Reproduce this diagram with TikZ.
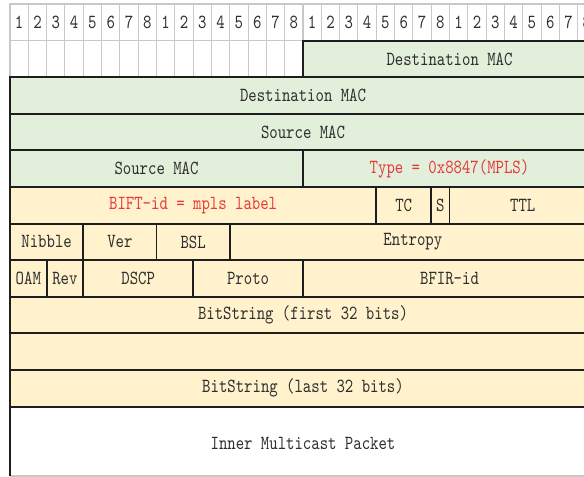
\documentclass[tikz,border=0pt]{standalone}
\usepackage{fontspec}
\newfontfamily\monof{lmmono10-regular.otf}[FakeStretch=0.8]
\definecolor{greenf}{HTML}{E2EFDA}
\definecolor{orangef}{HTML}{FFF2CC}
\definecolor{gridc}{HTML}{C8C8C8}
\definecolor{txtc}{HTML}{2E2E2E}
\definecolor{redt}{HTML}{E8393A}
\definecolor{edge}{HTML}{1E1E1E}
\tikzset{
  fieldbox/.style={draw=edge, line width=1.4pt},
  gridbox/.style={draw=gridc, line width=0.8pt, fill=white},
  txt/.style={text=txtc, font=\monof\fontsize{15}{17}\selectfont, inner sep=0pt},
  redtxt/.style={txt, text=redt},
}
\newcommand{\cw}{18.3125}
\newcommand{\rh}{36.6}
% \fieldx{name}{bit0}{bit1}{row}{fill}{text style}{text}
\newcommand{\fieldx}[7]{%
  \draw[fieldbox, fill=#5] ({10+#2*\cw},{4+#4*\rh}) rectangle ({10+#3*\cw},{4+(#4+1)*\rh});
  \node[#6] (#1) at ({10+(#2+#3)*\cw/2},{4+(#4+0.5)*\rh}) {#7};}
\begin{document}
\begin{tikzpicture}[x=0.75pt,y=-0.75pt]
\useasboundingbox (0,0) rectangle (584,477);
\clip (0,0) rectangle (584,477);
\fill[white] (0,0) rectangle (584,477);
% header numbers
\foreach \i in {0,...,31}{
  \pgfmathtruncatemacro{\n}{mod(\i,8)+1}
  \draw[gridbox] ({10+\i*\cw},4) rectangle ({10+(\i+1)*\cw},{4+\rh});
  \node[txt] (h\i) at ({10+(\i+0.5)*\cw},{4+0.5*\rh}) {\n};
}
\foreach \i in {0,...,15}{
  \draw[gridbox] ({10+\i*\cw},{4+\rh}) rectangle ({10+(\i+1)*\cw},{4+2*\rh});
}
\fieldx{dmac1}{16}{32}{1}{greenf}{txt}{Destination MAC}
\fieldx{dmac2}{0}{32}{2}{greenf}{txt}{Destination MAC}
\fieldx{smac1}{0}{32}{3}{greenf}{txt}{Source MAC}
\fieldx{smac2}{0}{16}{4}{greenf}{txt}{Source MAC}
\fieldx{type}{16}{32}{4}{greenf}{redtxt}{Type = 0x8847(MPLS)}
\fieldx{bift}{0}{20}{5}{orangef}{redtxt}{BIFT-id = mpls label}
\fieldx{tc}{20}{23}{5}{orangef}{txt}{TC}
\fieldx{s}{23}{24}{5}{orangef}{txt}{S}
\fieldx{ttl}{24}{32}{5}{orangef}{txt}{TTL}
\fieldx{nib}{0}{4}{6}{orangef}{txt}{Nibble}
\fieldx{ver}{4}{8}{6}{orangef}{txt}{Ver}
\fieldx{bsl}{8}{12}{6}{orangef}{txt}{BSL}
\fieldx{ent}{12}{32}{6}{orangef}{txt}{Entropy}
\fieldx{oam}{0}{2}{7}{orangef}{txt}{OAM}
\fieldx{rev}{2}{4}{7}{orangef}{txt}{Rev}
\fieldx{dscp}{4}{10}{7}{orangef}{txt}{DSCP}
\fieldx{proto}{10}{16}{7}{orangef}{txt}{Proto}
\fieldx{bfir}{16}{32}{7}{orangef}{txt}{BFIR-id}
\fieldx{bs1}{0}{32}{8}{orangef}{txt}{BitString (first 32 bits)}
\fieldx{bsm}{0}{32}{9}{orangef}{txt}{}
\fieldx{bs2}{0}{32}{10}{orangef}{txt}{BitString (last 32 bits)}
% inner packet
\draw[gridc, line width=0.9pt] (10,476) -- (596,476);
\draw[edge, line width=1.4pt] (10,{4+11*\rh}) -- (10,476);
\draw[edge, line width=1.4pt] (10,{4+11*\rh}) -- (596,{4+11*\rh});
\node[txt] (inner) at (303,443) {Inner Multicast Packet};
\end{tikzpicture}
\end{document}
